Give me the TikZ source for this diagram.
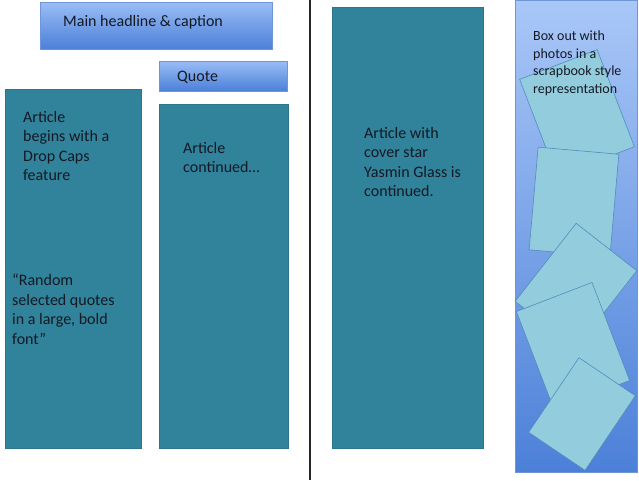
\documentclass[tikz,border=0pt]{standalone}
\usepackage{fontspec}
\setmainfont{Carlito}
\definecolor{bannertop}{RGB}{154,189,246}
\definecolor{bannerbot}{RGB}{76,128,216}
\definecolor{bannerline}{RGB}{110,150,215}
\definecolor{columnfill}{RGB}{49,130,155}
\definecolor{photofill}{RGB}{147,205,221}
\definecolor{photoline}{RGB}{80,140,190}
\definecolor{textdark}{RGB}{20,25,35}
\begin{document}
\begin{tikzpicture}[
    x=1pt, y=-1pt,
    banner/.style={rectangle, draw=bannerline, top color=bannertop, bottom color=bannerbot, inner sep=0pt},
    column/.style={rectangle, draw=columnfill!90!black, fill=columnfill, inner sep=0pt},
    photo/.style={rectangle, draw=photoline, fill=photofill, inner sep=0pt, line width=0.6pt},
    copy/.style={anchor=north west, align=left, inner sep=0pt, text=textdark, font=\fontsize{16}{19.5}\selectfont},
    smallcopy/.style={copy, font=\fontsize{14}{17.4}\selectfont}
]
    \useasboundingbox (0,0) rectangle (639,480);
    \fill [white] (0,0) rectangle (639,480);

    % Left page
    \node [banner, minimum width=232pt, minimum height=47pt] (headline) at (156,25.5) {};
    \node [banner, minimum width=128pt, minimum height=30pt] (quote) at (223,76) {};
    \node [column, minimum width=136pt, minimum height=359pt] (artleft) at (73,268.5) {};
    \node [column, minimum width=129pt, minimum height=344pt] (artmid) at (223.5,276) {};

    % Page fold
    \coordinate (foldtop) at (310,0);
    \coordinate (foldbot) at (310,480);
    \draw [line width=1.2pt, black!85] (foldtop) -- (foldbot);

    % Right page
    \node [column, minimum width=151pt, minimum height=441pt] (artright) at (407.5,227.5) {};
    \node [banner, top color=bannertop!85!white, minimum width=122pt, minimum height=472pt] (boxout) at (576,236) {};

    % Scrapbook photos
    \node [photo, minimum width=83pt, minimum height=104pt, rotate=21] (photo1) at (577,113) {};
    \node [photo, minimum width=81pt, minimum height=103pt, rotate=-5] (photo2) at (574,202) {};
    \node [photo, minimum width=77pt, minimum height=99pt, rotate=-38] (photo3) at (576,286) {};
    \node [photo, minimum width=81pt, minimum height=105pt, rotate=21] (photo4) at (573,346) {};
    \node [photo, minimum width=68pt, minimum height=90pt, rotate=-34] (photo5) at (582,414) {};

    % Texts
    \node [copy, anchor=west] (headtext) at (63,22) {Main headline \& caption};
    \node [copy, anchor=west] (quotetext) at (177,77) {Quote};
    \node [copy] (lefttext) at (23,111) {Article\\begins with a\\Drop Caps\\feature};
    \node [copy] (pulltext) at (12,274) {“Random\\selected quotes\\in a large, bold\\font”};
    \node [copy] (midtext) at (183,142) {Article\\continued…};
    \node [copy] (righttext) at (364,127) {Article with\\cover star\\Yasmin Glass is\\continued.};
    \node [smallcopy] (boxtext) at (533,31) {Box out with\\photos in a\\scrapbook style\\representation};
\end{tikzpicture}
\end{document}
